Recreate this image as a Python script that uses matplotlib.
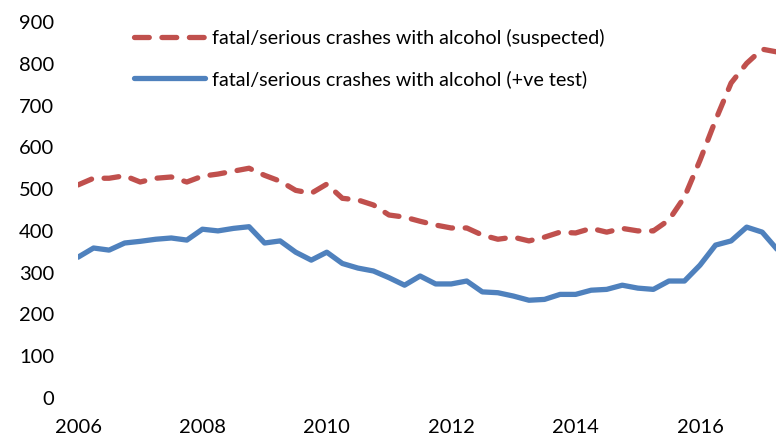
import matplotlib
matplotlib.use("Agg")
import matplotlib.pyplot as plt
import numpy as np

# Quarterly data starting 2006 Q1
start_year = 2006
suspected = [510, 526, 526, 532, 517, 526, 529, 517, 531, 536, 543, 550,
             533, 519, 497, 490, 512, 478, 474, 462, 438, 433, 423, 414,
             407, 407, 390, 380, 385, 376, 385, 397, 395, 406, 397, 406,
             400, 400, 426, 481, 569, 665, 754, 801, 835, 828]
positive = [337, 359, 354, 371, 375, 380, 383, 378, 404, 400, 406, 410,
            371, 376, 349, 330, 349, 322, 311, 304, 288, 270, 292, 273,
            273, 280, 254, 252, 244, 234, 236, 248, 248, 258, 260, 270,
            263, 260, 280, 280, 318, 366, 376, 409, 397, 354]
label_suspected = "fatal/serious crashes with alcohol (suspected)"
label_positive = "fatal/serious crashes with alcohol (+ve test)"
x_ticks = [2006, 2008, 2010, 2012, 2014, 2016]
y_ticks = [0, 100, 200, 300, 400, 500, 600, 700, 800, 900]

x = start_year + np.arange(len(suspected)) * 0.25

plt.rcParams['font.family'] = ['Lato', 'DejaVu Sans']

fig = plt.figure(figsize=(7.76, 4.4), dpi=100)
ax = fig.add_axes([78/776, 42/440, 1 - 78/776, (398-22)/440])

ax.plot(x, suspected, color='#C0504D', lw=3.8, linestyle=(0, (2.8, 2.4)),
        dash_capstyle='round', solid_capstyle='round', label=label_suspected)
ax.plot(x, positive, color='#4F81BD', lw=3.8, solid_capstyle='round',
        solid_joinstyle='round', label=label_positive)

ax.set_xlim(2006, 2006 + (776-78)/62.2)
ax.set_ylim(0, 900)
ax.set_xticks(x_ticks)
ax.set_yticks(y_ticks)
ax.tick_params(axis='both', length=0, labelsize=14.5, colors='#000000')
ax.tick_params(axis='y', pad=17)
ax.tick_params(axis='x', pad=15)
for s in ax.spines.values():
    s.set_visible(False)

leg = ax.legend(loc='upper left', bbox_to_anchor=(0.055, 1.03), frameon=False,
                fontsize=14.2, handlelength=3.6, handletextpad=0.35, labelspacing=1.2)

fig.savefig('out.png', dpi=100)
